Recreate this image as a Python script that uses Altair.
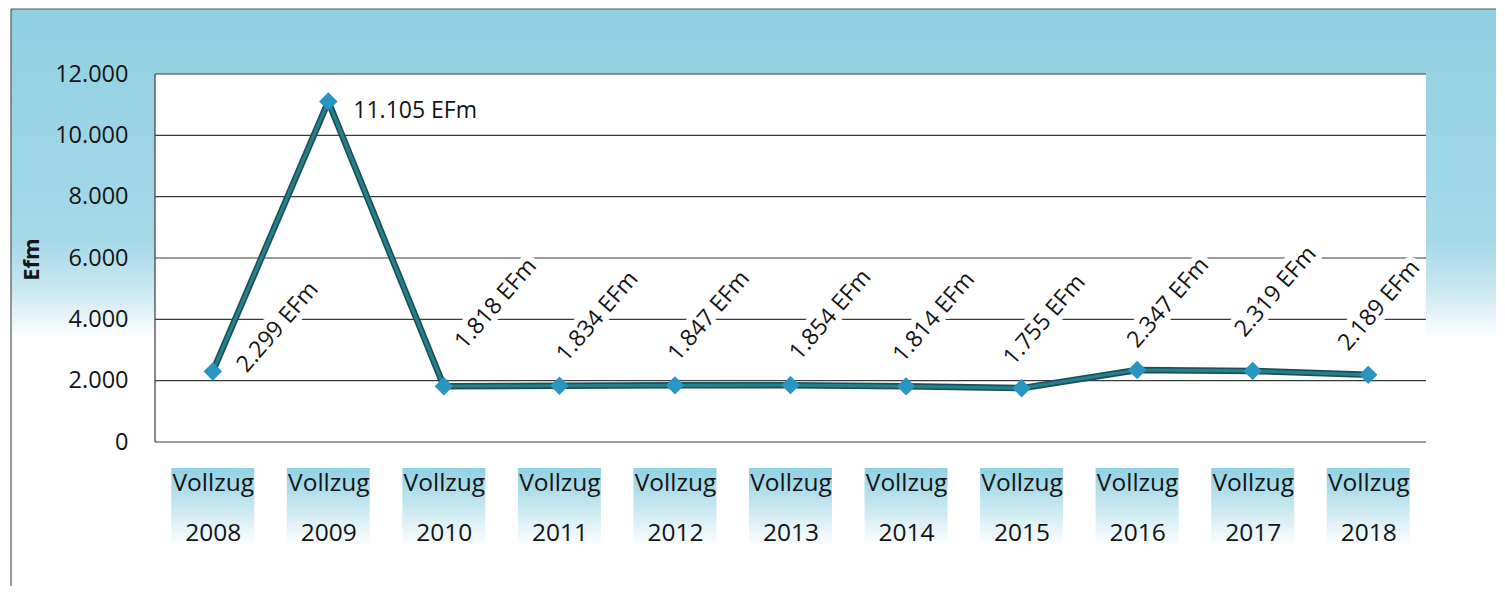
import math
import altair as alt
import pandas as pd

years = ["2008", "2009", "2010", "2011", "2012", "2013", "2014", "2015", "2016", "2017", "2018"]
values = [2299, 11105, 1818, 1834, 1847, 1854, 1814, 1755, 2347, 2319, 2189]
labels = ["2.299 EFm", "11.105 EFm", "1.818 EFm", "1.834 EFm", "1.847 EFm", "1.854 EFm",
          "1.814 EFm", "1.755 EFm", "2.347 EFm", "2.319 EFm", "2.189 EFm"]
y_ticks = [0, 2000, 4000, 6000, 8000, 10000, 12000]

W, H = 1271, 368
FONT = "Open Sans"
TXT = "#141414"

df = pd.DataFrame({"year": years, "value": values, "label": labels})
grid_df = pd.DataFrame({"v": y_ticks})
one = pd.DataFrame({"k": [0]})

xscale = alt.Scale(type="point", padding=0.5, domain=years)
yscale = alt.Scale(domain=[0, 12000], nice=False, zero=True)

x_axis = alt.Axis(title=None, domain=False, ticks=False, tickSize=0, labelAngle=0, grid=False,
                  labelExpr="['Vollzug', datum.label]", labelFontSize=24.5, labelFont=FONT,
                  labelColor=TXT, labelLineHeight=50, labelPadding=29, zindex=1,
                  labelBaseline="top")
y_axis = alt.Axis(title="Efm", values=y_ticks, grid=False, domain=False, ticks=False, tickSize=0,
                  labelExpr="replace(format(datum.value, ','), ',', '.')",
                  labelFontSize=23.5, labelFont=FONT, labelColor=TXT, labelPadding=27,
                  titleFont=FONT, titleFontSize=22, titleFontWeight="bold", titleColor=TXT,
                  titleX=-124, titleY=185, titleAngle=270, titleAlign="center",
                  titleBaseline="middle", zindex=1)

X = alt.X("year:N", scale=xscale, axis=x_axis)
Y = alt.Y("value:Q", scale=yscale, axis=y_axis)

bg_grad = alt.Gradient(
    gradient="linear", x1=0, y1=0, x2=0, y2=1,
    stops=[alt.GradientStop(color="#8fd0e0", offset=0),
           alt.GradientStop(color="#a5d9e8", offset=0.40),
           alt.GradientStop(color="#cbe8f1", offset=0.49),
           alt.GradientStop(color="#ffffff", offset=0.57),
           alt.GradientStop(color="#ffffff", offset=1)])

box_grad = alt.Gradient(
    gradient="linear", x1=0, y1=0, x2=0, y2=1,
    stops=[alt.GradientStop(color="#8fd1e3", offset=0),
           alt.GradientStop(color="#c4e6f0", offset=0.45),
           alt.GradientStop(color="#ffffff", offset=0.95)])

background = alt.Chart(one).mark_rect(fill=bg_grad).encode(
    x=alt.value(-144), x2=alt.value(W + 70), y=alt.value(-65), y2=alt.value(H + 144))
frame_left = alt.Chart(one).mark_rule(color="#555555", strokeWidth=1.2).encode(
    x=alt.value(-144), y=alt.value(-65), y2=alt.value(H + 144))
frame_top = alt.Chart(one).mark_rule(color="#555555", strokeWidth=1.2).encode(
    y=alt.value(-65), x=alt.value(-144), x2=alt.value(W + 70))

boxes = alt.Chart(df).mark_bar(size=83, color=box_grad).encode(
    x=X, y=alt.value(H + 26), y2=alt.value(H + 108))

plot_bg = alt.Chart(one).mark_rect(fill="white").encode(
    x=alt.value(0), x2=alt.value(W), y=alt.value(0), y2=alt.value(H))

grid = alt.Chart(grid_df).mark_rule(color="#3a3a3a", strokeWidth=1.2).encode(
    y=alt.Y("v:Q", scale=yscale, axis=y_axis), x=alt.value(0), x2=alt.value(W))

left_border = alt.Chart(one).mark_rule(color="#3a3a3a", strokeWidth=1.2).encode(
    x=alt.value(0), y=alt.value(0), y2=alt.value(H))

base = alt.Chart(df).encode(x=X, y=Y)
line_dark = base.mark_line(color="#1b4f58", strokeWidth=6.5)
line_light = base.mark_line(color="#25808c", strokeWidth=3.2)
points = base.mark_point(shape="diamond", size=340, filled=True, color="#2b95c2", opacity=1)

# label nudges (screen px from the point to the text's baseline start), like Excel's
# manually placed data labels
ROT = 311
nudge = {
    "2008": (34, 2), "2010": (21, -36), "2011": (7, -23), "2012": (3, -23),
    "2013": (9, -24), "2014": (-3, -23), "2015": (-8, -22), "2016": (0, -21),
    "2017": (-8, -33), "2018": (-20, -23),
}


def label_layers(year, angle, sx, sy):
    a = math.radians(angle)
    ux, uy = math.cos(a), math.sin(a)
    vx, vy = -math.sin(a), math.cos(a)
    dx = sx * ux + sy * uy
    dy = sx * vx + sy * vy
    layers = []
    for halo in (True, False):
        kw = dict(angle=angle, align="left", baseline="alphabetic", dx=round(dx, 2),
                  dy=round(dy, 2), font=FONT, fontSize=23)
        if halo:
            kw.update(stroke="white", strokeWidth=12, strokeJoin="round", fill="white")
        else:
            kw.update(fill=TXT)
        layers.append(base.transform_filter(f"datum.year == '{year}'")
                      .mark_text(**kw).encode(text="label:N"))
    return layers


texts = []
for yr, (sx, sy) in nudge.items():
    texts += label_layers(yr, ROT, sx, sy)
texts += label_layers("2009", 0, 25, 17)

chart = alt.layer(background, frame_left, frame_top, boxes, plot_bg, grid, left_border,
                  line_dark, line_light, points, *texts).properties(
    width=W, height=H,
    padding={"left": 2, "top": 0, "right": 0, "bottom": 0},
).configure_view(stroke=None).configure(background="white")

chart.save("out.html", embed_options={"renderer": "svg", "actions": False})
